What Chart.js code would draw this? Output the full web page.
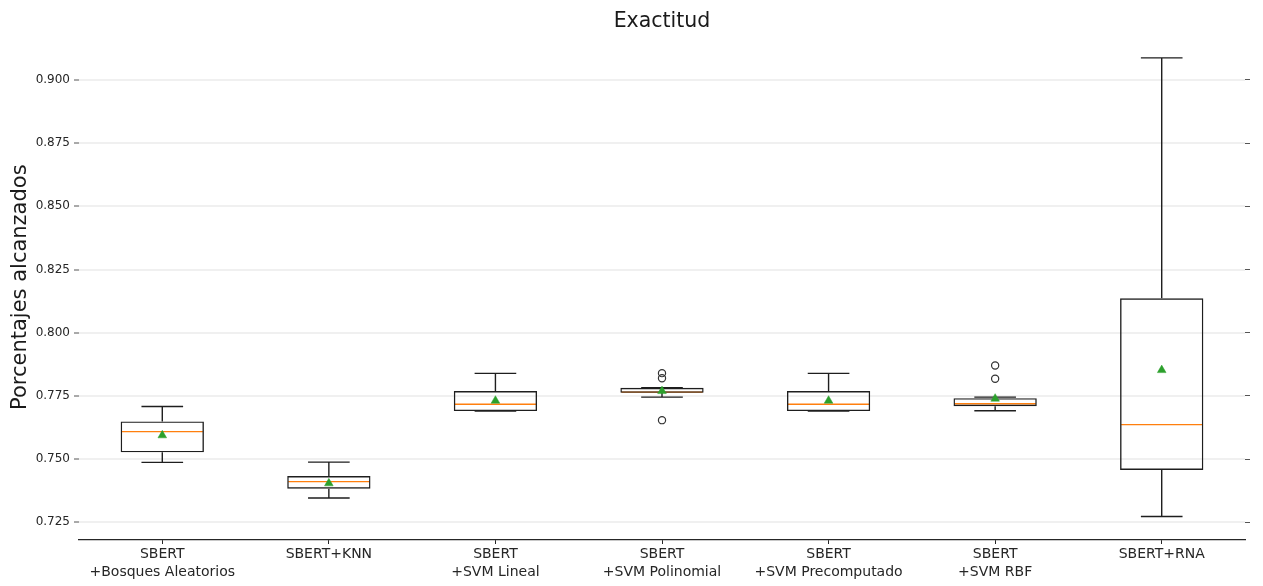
<!DOCTYPE html>
<html>
<head>
<meta charset="utf-8">
<title>Exactitud</title>
<script src="https://cdn.jsdelivr.net/npm/chart.js@4.4.1/dist/chart.umd.min.js"></script>
<style>
  html, body { margin: 0; padding: 0; background: #ffffff; }
  #wrap { width: 1263px; height: 586px; position: relative; }
</style>
</head>
<body>
<div id="wrap"><canvas id="chart"></canvas></div>
<script>
// Models compared (multi-line tick labels)
const categories = [
  ['SBERT', '+Bosques Aleatorios'],
  'SBERT+KNN',
  ['SBERT', '+SVM Lineal'],
  ['SBERT', '+SVM Polinomial'],
  ['SBERT', '+SVM Precomputado'],
  ['SBERT', '+SVM RBF'],
  'SBERT+RNA'
];

// Box-plot statistics per model
const whiskerLow  = [0.7487, 0.7346, 0.7690, 0.7745, 0.7690, 0.7691, 0.7273];
const q1          = [0.7527, 0.7383, 0.7690, 0.7762, 0.7690, 0.7709, 0.7457];
const median      = [0.7609, 0.7411, 0.7717, 0.7765, 0.7717, 0.7719, 0.7636];
const q3          = [0.7649, 0.7433, 0.7769, 0.7782, 0.7769, 0.7741, 0.8136];
const whiskerHigh = [0.7708, 0.7488, 0.7839, 0.7782, 0.7839, 0.7745, 0.9087];
const means       = [0.7594, 0.7404, 0.7731, 0.7769, 0.7731, 0.7739, 0.7852];
const outliers    = [[], [], [], [0.7840, 0.7820, 0.7654], [], [0.7870, 0.7818], []];

// Y axis range and tick values
const yMin = 0.718;
const yMax = 0.918;
const yTicks = [0.725, 0.750, 0.775, 0.800, 0.825, 0.850, 0.875, 0.900];

Chart.defaults.font.family = "'DejaVu Sans', 'Liberation Sans', sans-serif";
Chart.defaults.color = '#262626';

const lineColor = '#1e1e1e';

// Whiskers, caps and medians drawn from the statistics above
const boxLines = {
  id: 'boxLines',
  beforeDatasetsDraw(chart) {
    const ctx = chart.ctx;
    const y = chart.scales.y;
    const meta = chart.getDatasetMeta(0);
    ctx.save();
    meta.data.forEach((bar, i) => {
      const x = bar.x;
      const half = bar.width / 2;
      const cap = bar.width / 4;
      const yLo = y.getPixelForValue(whiskerLow[i]);
      const yQ1 = y.getPixelForValue(q1[i]);
      const yQ3 = y.getPixelForValue(q3[i]);
      const yHi = y.getPixelForValue(whiskerHigh[i]);
      const yMed = y.getPixelForValue(median[i]);
      ctx.strokeStyle = lineColor;
      ctx.lineWidth = 1.4;
      ctx.beginPath();
      ctx.moveTo(x, yQ3); ctx.lineTo(x, yHi);
      ctx.moveTo(x, yQ1); ctx.lineTo(x, yLo);
      ctx.moveTo(x - cap, yHi); ctx.lineTo(x + cap, yHi);
      ctx.moveTo(x - cap, yLo); ctx.lineTo(x + cap, yLo);
      ctx.stroke();
      ctx.strokeStyle = '#ff7f0e';
      ctx.lineWidth = 1.3;
      ctx.beginPath();
      ctx.moveTo(x - half + 1, yMed); ctx.lineTo(x + half - 1, yMed);
      ctx.stroke();
    });
    ctx.restore();
  }
};

// One point dataset per outlier rank
const maxOutliers = Math.max(...outliers.map(o => o.length));
const outlierSets = [];
for (let k = 0; k < maxOutliers; k++) {
  outlierSets.push({
    type: 'line',
    label: 'outliers ' + (k + 1),
    data: outliers.map(o => (o[k] !== undefined ? o[k] : null)),
    showLine: false,
    pointStyle: 'circle',
    pointRadius: 3.6,
    pointBackgroundColor: 'rgba(255,255,255,0)',
    pointBorderColor: '#333333',
    pointBorderWidth: 1.2,
    order: 0
  });
}

new Chart(document.getElementById('chart'), {
  type: 'bar',
  data: {
    labels: categories,
    datasets: [
      {
        label: 'IQR',
        data: q1.map((v, i) => [v, q3[i]]),
        backgroundColor: 'rgba(255,255,255,0)',
        borderColor: lineColor,
        borderWidth: 1.4,
        borderSkipped: false,
        barPercentage: 0.5,
        categoryPercentage: 1.0,
        order: 2
      },
      {
        type: 'line',
        label: 'media',
        data: means,
        showLine: false,
        pointStyle: 'triangle',
        pointRadius: 5,
        pointBackgroundColor: '#2ca02c',
        pointBorderColor: '#2ca02c',
        pointBorderWidth: 0.5,
        order: 1
      },
      ...outlierSets
    ]
  },
  options: {
    responsive: true,
    maintainAspectRatio: false,
    animation: false,
    events: [],
    layout: { padding: 0 },
    plugins: {
      legend: { display: false },
      tooltip: { enabled: false },
      title: {
        display: true,
        fullSize: false,
        text: 'Exactitud',
        color: '#1a1a1a',
        font: { size: 20.5, weight: 'normal' },
        padding: { top: 9.5, bottom: 0.3 }
      }
    },
    scales: {
      x: {
        type: 'category',
        offset: true,
        border: { display: true, color: '#262626', width: 1.2 },
        grid: {
          display: true,
          drawOnChartArea: false,
          drawTicks: true,
          offset: false,
          tickLength: 4,
          tickColor: '#262626'
        },
        ticks: {
          autoSkip: false,
          maxRotation: 0,
          minRotation: 0,
          padding: 1,
          color: '#262626',
          font: { size: 14, lineHeight: 1.3 }
        },
        afterFit(scale) { scale.height = 46; }
      },
      y: {
        type: 'linear',
        position: 'left',
        min: yMin,
        max: yMax,
        border: { display: false },
        grid: {
          color: '#f0f0f0',
          lineWidth: 2,
          drawTicks: true,
          tickLength: 5,
          tickColor: '#555555',
          tickWidth: 1
        },
        ticks: {
          padding: 4,
          color: '#262626',
          font: { size: 12 },
          callback: v => Number(v).toFixed(3)
        },
        afterBuildTicks(scale) { scale.ticks = yTicks.map(v => ({ value: v })); },
        title: {
          display: true,
          text: 'Porcentajes alcanzados',
          color: '#1a1a1a',
          font: { size: 21 },
          padding: { top: 8, bottom: 0 }
        },
        afterFit(scale) { scale.width = 79; }
      },
      y2: {
        type: 'linear',
        position: 'right',
        min: yMin,
        max: yMax,
        border: { display: false },
        grid: {
          drawOnChartArea: false,
          drawTicks: true,
          tickLength: 5,
          tickColor: '#555555',
          tickWidth: 1
        },
        ticks: { display: false },
        afterBuildTicks(scale) { scale.ticks = yTicks.map(v => ({ value: v })); },
        afterFit(scale) { scale.width = 18; }
      }
    }
  },
  plugins: [boxLines]
});
</script>
</body>
</html>
